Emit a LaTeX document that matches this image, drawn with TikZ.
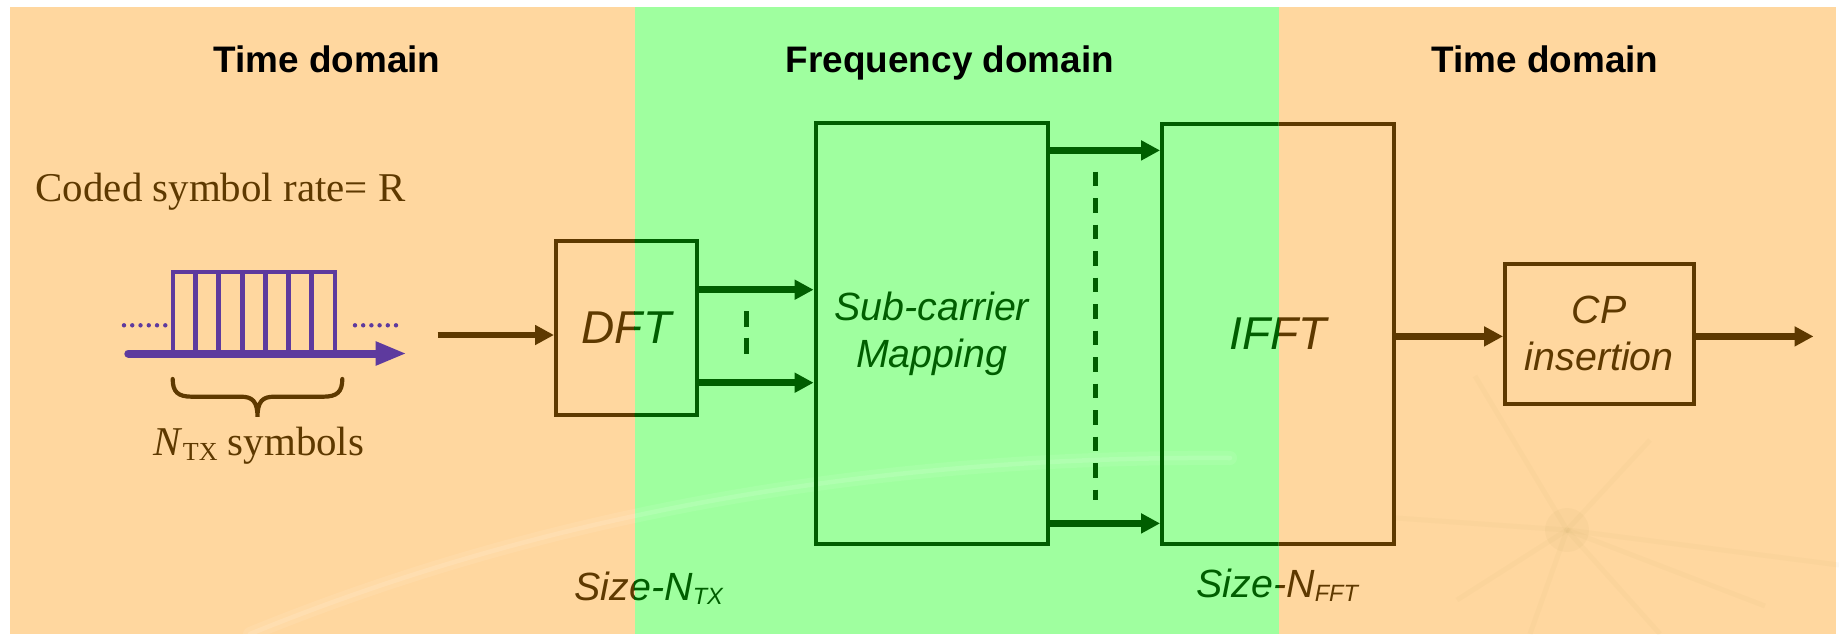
\documentclass[tikz,border=0pt]{standalone}
\usepackage{fontspec}
\setmainfont{Liberation Serif}
\newfontfamily\arialfont{Liberation Sans}
\usetikzlibrary{arrows.meta}

\definecolor{bgorange}{RGB}{255,215,159}
\definecolor{bggreen}{RGB}{159,255,159}
\definecolor{inkbrown}{RGB}{94,57,0}
\definecolor{inkgreen}{RGB}{0,94,0}
\definecolor{pulsecol}{RGB}{94,58,158}
\definecolor{burst}{RGB}{170,150,70}
\colorlet{ink}{inkbrown}

\tikzset{
  blockbox/.style={draw=ink, line width=0.4mm, text=ink, inner sep=0pt, align=center,
    font=\arialfont\itshape\fontsize{11.2pt}{13.4pt}\selectfont},
  bigtext/.style={font=\arialfont\itshape\fontsize{13.1pt}{15pt}\selectfont},
  flow/.style={draw=ink, line width=0.65mm, -{Triangle[length=1.9mm,width=1.9mm]}},
  ellipsisline/.style={draw=ink, line width=0.5mm},
  title/.style={font=\arialfont\bfseries\fontsize{10.5pt}{12pt}\selectfont, text=black, anchor=base},
  sizelabel/.style={text=ink, anchor=base west, inner sep=0pt,
    font=\arialfont\itshape\fontsize{11.2pt}{13pt}\selectfont},
  seriftext/.style={text=inkbrown, inner sep=0pt, font=\fontsize{11.64pt}{14pt}\selectfont},
}

% lowered, smaller subscript used in the size labels
\newcommand\lowsub[1]{\raisebox{-0.45mm}{\fontsize{6.7pt}{7pt}\selectfont #1}}

% faint decorative swoosh and starburst of the backdrop
\newcommand\backdrop{%
  \draw[white, opacity=0.08, line width=1.4mm, line cap=round]
    (250,634) .. controls (480,540) and (800,455) .. (1230,458);
  \draw[white, opacity=0.12, line width=0.45mm, line cap=round]
    (250,634) .. controls (480,540) and (800,455) .. (1230,458);
  \foreach \ex/\ey in {1475/376, 1396/518, 1457/600, 1660/634, 1765/606, 1650/440, 1839/565, 1530/634}
    \draw[burst, opacity=0.04, line width=0.5mm] (1567,530) -- (\ex,\ey);
  \fill[burst, opacity=0.05] (1567,530) circle (22);
}

% the processing chain, drawn in the current ink colour
\newcommand\blockdiagram{%
  \node[blockbox, bigtext, minimum width=14.1mm, minimum height=17.47mm] (dft) at (626.5,328) {DFT};
  \node[blockbox, minimum width=23.22mm, minimum height=42.08mm] (map) at (931.7,333.4) {Sub-carrier\\Mapping};
  \node[blockbox, bigtext, minimum width=23.18mm, minimum height=42mm] (ifft) at (1278,334) {IFFT};
  \node[blockbox, minimum width=18.85mm, minimum height=14mm] (cp) at (1599.3,333.6) {CP\\insertion};
  \coordinate (src) at (437.5,335);
  \coordinate (sink) at (1813.5,336.4);
  \coordinate (yA) at (0,289.7);
  \coordinate (yB) at (0,382.7);
  \coordinate (yC) at (0,150.4);
  \coordinate (yD) at (0,523.4);
  \coordinate (yM) at (0,336.4);
  \coordinate (smallTop) at (746.4,311);
  \coordinate (smallBot) at (746.4,353.7);
  \coordinate (longTop) at (1095.5,171.5);
  \coordinate (longBot) at (1095.5,500);
  \draw[flow] (src) -- (src -| dft.west);
  \draw[flow] (dft.east |- yA) -- (map.west |- yA);
  \draw[flow] (dft.east |- yB) -- (map.west |- yB);
  \draw[flow] (map.east |- yC) -- (ifft.west |- yC);
  \draw[flow] (map.east |- yD) -- (ifft.west |- yD);
  \draw[flow] (ifft.east |- yM) -- (cp.west |- yM);
  \draw[flow] (cp.east |- yM) -- (sink);
  \draw[ellipsisline, dash pattern=on 1.6mm off 1.07mm] (smallTop) -- (smallBot);
  \draw[ellipsisline, dash pattern=on 1.45mm off 1.2mm] (longTop) -- (longBot);
  \node[sizelabel] (sizetx) at (574,600) {Size-N\lowsub{TX}};
  \node[sizelabel] (sizefft) at (1196,597) {Size-N\lowsub{FFT}};
}

\begin{document}
\begin{tikzpicture}[x=0.1mm, y=-0.1mm]
\useasboundingbox (0,0) rectangle (1839,634);
\fill[white] (0,0) rectangle (1839,634);
\fill[bgorange] (10,7) rectangle (1836,634);
\fill[bggreen] (634.5,7) rectangle (1278.5,634);
\backdrop

% time-domain input: symbol pulse train
\draw[pulsecol, line width=0.38mm] (173.3,350) -- (173.3,272.3) -- (334.7,272.3) -- (334.7,350);
\foreach \x in {195.5,218.5,242,265,288.5,311.5}
  \draw[pulsecol, line width=0.5mm] (\x,272.3) -- (\x,350);
\draw[pulsecol, line width=0.8mm, line cap=round, -{Triangle[length=3.1mm,width=2.2mm]}]
  (128.3,353.5) -- (406.7,353.5);
\foreach \i in {0,...,5} {
  \fill[pulsecol] (124+8.26*\i,325.3) circle (2.2);
  \fill[pulsecol] (355+8.2*\i,325.3) circle (2.2);
}
\draw[inkbrown, line width=0.42mm, line cap=round]
  (172.7,379) .. controls (172.7,392) and (178,396.7) .. (192,396.7) -- (241,396.7)
  .. controls (252,396.7) and (257.5,401) .. (257.5,416.7)
  .. controls (257.5,401) and (263,396.7) .. (274,396.7) -- (323,396.7)
  .. controls (337,396.7) and (342.3,392) .. (342.3,379);
\node[seriftext, anchor=base west] (rate) at (35,201) {Coded symbol rate= R};
\node[seriftext, anchor=base] (ntx) at (259,455)
  {\textit{N}\raisebox{-0.5mm}{\fontsize{7.4pt}{8pt}\selectfont TX} symbols};

% chain in brown, then re-inked in green over the frequency-domain band
\colorlet{ink}{inkbrown}
\blockdiagram
\begin{scope}
  \clip (634.5,7) rectangle (1278.5,634);
  \fill[bggreen] (634.5,7) rectangle (1278.5,634);
  \backdrop
  \colorlet{ink}{inkgreen}
  \blockdiagram
\end{scope}

% domain headings
\node[title] (tleft) at (327,72.8) {Time domain};
\node[title] (tmid) at (950,72.8) {Frequency domain};
\node[title] (tright) at (1545,72.8) {Time domain};
\end{tikzpicture}
\end{document}
